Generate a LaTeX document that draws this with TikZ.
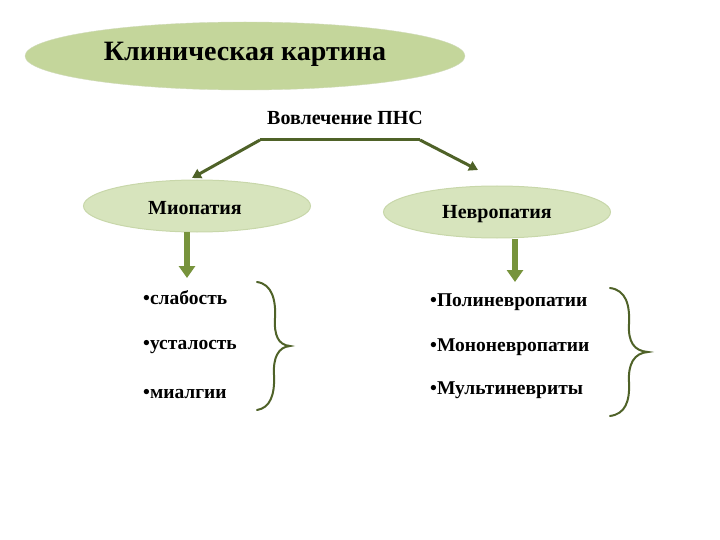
\documentclass[tikz,border=0pt]{standalone}
\usepackage{fontspec}
\setmainfont{Liberation Serif}
\usetikzlibrary{arrows.meta,shapes.geometric}
\definecolor{ellA}{RGB}{196,214,155}
\definecolor{ellB}{RGB}{215,228,189}
\definecolor{ellBd}{RGB}{200,215,170}
\definecolor{olive}{RGB}{79,98,40}
\definecolor{leaf}{RGB}{119,147,60}
\tikzset{
  bigell/.style={ellipse, fill=ellA, draw=ellA!90!black!60, minimum width=440pt, minimum height=68pt, inner sep=0pt},
  subell/.style={ellipse, fill=ellB, draw=ellBd, line width=1pt, minimum width=227pt, minimum height=52pt, inner sep=0pt},
  lbl/.style={font=\fontsize{20}{24}\selectfont\bfseries, inner sep=0pt},
  item/.style={anchor=west, font=\fontsize{19.5}{23}\selectfont\bfseries, inner sep=0pt},
  conn/.style={draw=olive, line width=3pt, -{Triangle[width=10pt,length=9pt]}},
  down/.style={draw=leaf, line width=6pt, -{Triangle[width=16pt,length=12pt]}},
  brace/.style={draw=olive, line width=2pt, line cap=round}
}
\begin{document}
\begin{tikzpicture}[x=1pt,y=-1pt]
\useasboundingbox (0,0) rectangle (720,540);
\node[bigell] (title) at (245,56) {};
\node[font=\fontsize{28}{32}\selectfont\bfseries] (titletext) at (245,54) {Клиническая картина};
\node[lbl] (vov) at (345,118) {Вовлечение ПНС};
\node[subell] (mio) at (197,206) {};
\node[lbl] (miotext) at (195,208) {Миопатия};
\node[subell] (nev) at (497,212) {};
\node[lbl] (nevtext) at (497,214) {Невропатия};
\coordinate (jl) at (260,140);
\coordinate (jr) at (420,140);
\coordinate (tl) at (192,178);
\coordinate (tr) at (478,170);
\draw[draw=olive, line width=3pt] (jl) -- (jr);
\draw[conn] (jl) -- (tl);
\draw[conn] (jr) -- (tr);
\coordinate (dl) at (187,278);
\coordinate (dr) at (515,282);
\draw[down] (187,232) -- (dl);
\draw[down] (515,239) -- (dr);
\node[item] (a1) at (143,298) {•слабость};
\node[item] (a2) at (143,347) {•усталость};
\node[item] (a3) at (143,394) {•миалгии};
\node[item] (b1) at (430,302) {•Полиневропатии};
\node[item] (b2) at (430,347) {•Мононевропатии};
\node[item] (b3) at (430,390) {•Мультиневриты};
% left brace
\draw[brace] (257,282) .. controls (272,284) and (276,300) .. (275,318)
  .. controls (274,335) and (278,345) .. (290,346)
  .. controls (278,347) and (273,358) .. (274,375)
  .. controls (275,395) and (270,408) .. (257,410);
% right brace
\draw[brace] (610,288) .. controls (626,290) and (630,305) .. (629,324)
  .. controls (628,342) and (634,351) .. (648,352)
  .. controls (634,353) and (628,364) .. (629,382)
  .. controls (630,402) and (625,414) .. (610,416);
\end{tikzpicture}
\end{document}
